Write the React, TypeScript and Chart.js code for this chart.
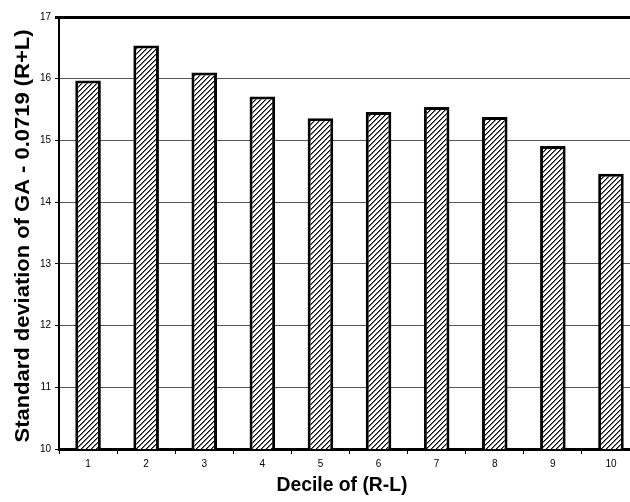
import React, { useEffect, useRef } from "react";
import { Chart, registerables } from "chart.js";

Chart.register(...registerables);

const categories = ["1", "2", "3", "4", "5", "6", "7", "8", "9", "10"];
const values = [15.97, 16.54, 16.1, 15.71, 15.36, 15.46, 15.54, 15.38, 14.91, 14.46];
const yMin = 10;
const yMax = 17;
const xTitle = "Decile of (R-L)";
const yTitle = "Standard deviation of GA - 0.0719 (R+L)";

function makePattern(): CanvasPattern | string {
  const c = document.createElement("canvas");
  const n = 5;
  c.width = n;
  c.height = n;
  const ctx = c.getContext("2d");
  if (!ctx) return "#888";
  ctx.fillStyle = "#ffffff";
  ctx.fillRect(0, 0, n, n);
  for (let i = 0; i < n; i++) {
    const y = n - 1 - i;
    ctx.fillStyle = "#000000";
    ctx.fillRect(i, y, 1, 1);
    ctx.fillStyle = "#777777";
    ctx.fillRect(i, (y + 1) % n, 1, 1);
  }
  const p = ctx.createPattern(c, "repeat");
  return p || "#888";
}

export default function App() {
  const ref = useRef<HTMLCanvasElement>(null);
  useEffect(() => {
    document.body.style.margin = "0";
    document.body.style.overflow = "hidden";
    if (!ref.current) return;
    const pattern = makePattern();
    const titlePlugin = {
      id: "titles",
      afterDraw(chart: any) {
        const ctx = chart.ctx;
        ctx.save();
        ctx.fillStyle = "#000";
        ctx.font = "bold 19.5px 'Liberation Sans', Arial, sans-serif";
        ctx.textAlign = "center";
        ctx.textBaseline = "middle";
        const wx = ctx.measureText(xTitle).width;
        ctx.save();
        ctx.translate(342, 486);
        ctx.scale(131 / wx, 1);
        ctx.fillText(xTitle, 0, 0);
        ctx.restore();
        const wy = ctx.measureText(yTitle).width;
        ctx.translate(24, 236);
        ctx.rotate(-Math.PI / 2);
        ctx.scale(413 / wy, 1);
        ctx.fillText(yTitle, 0, 0);
        ctx.restore();
      },
    };
    const chart = new Chart(ref.current, {
      type: "bar",
      data: {
        labels: categories,
        datasets: [
          {
            data: values,
            backgroundColor: pattern as any,
            borderColor: "#000",
            borderWidth: 3,
            barPercentage: 0.44,
            categoryPercentage: 1,
          },
        ],
      },
      options: {
        animation: false,
        responsive: false,
        maintainAspectRatio: false,
        layout: { padding: { top: 17, left: 0, right: 0, bottom: 0 } },
        plugins: { legend: { display: false }, tooltip: { enabled: false } },
        scales: {
          x: {
            grid: {
              offset: true,
              drawOnChartArea: false,
              drawTicks: true,
              tickLength: 5,
              tickColor: "#000",
            },
            border: { display: true, color: "#000", width: 3 },
            ticks: {
              color: "#000",
              font: { family: "'Liberation Sans', Arial, sans-serif", size: 10 },
              padding: 4,
            },
            afterFit(scale: any) {
              scale.height = 53;
            },
          },
          y: {
            min: yMin,
            max: yMax,
            ticks: {
              stepSize: 1,
              color: "#000",
              font: { family: "'Liberation Sans', Arial, sans-serif", size: 10 },
              padding: 4,
            },
            grid: {
              color: (ctx: any) => (ctx.tick && ctx.tick.value === yMax ? "#000" : "#555"),
              lineWidth: (ctx: any) => (ctx.tick && ctx.tick.value === yMax ? 3 : 1),
              tickColor: "#000",
              tickLength: 4,
              drawTicks: true,
            },
            border: { display: true, color: "#000", width: 2 },
            afterFit(scale: any) {
              scale.width = 59;
            },
          },
        },
      },
      plugins: [titlePlugin],
    });
    return () => chart.destroy();
  }, []);
  return (
    <div style={{ position: "absolute", left: 0, top: 0, width: 640, height: 502 }}>
      <canvas ref={ref} width={640} height={502} style={{ display: "block" }} />
    </div>
  );
}
